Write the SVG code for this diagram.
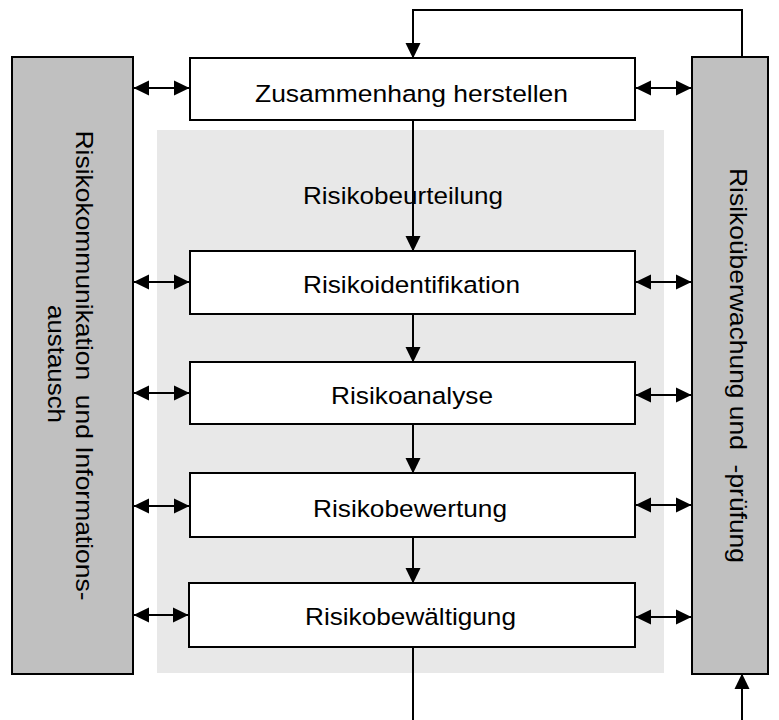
<svg xmlns="http://www.w3.org/2000/svg" width="779" height="720" viewBox="0 0 779 720">
  <style>
    .bg { fill: #ffffff; }
    .zone { fill: #e8e8e8; stroke: none; }
    .side { fill: #c0c0c0; stroke: #000; stroke-width: 2; }
    .step { fill: #ffffff; stroke: #000; stroke-width: 2; }
    .lbl { font-family: "Liberation Sans", Arial, Helvetica, sans-serif; font-size: 24.5px; fill: #000; white-space: pre; }
    .mid { text-anchor: middle; }
    .wire { fill: none; stroke: #000; stroke-width: 2; }
  </style>
  <defs>
    <marker id="head" markerUnits="userSpaceOnUse" markerWidth="16" markerHeight="16" refX="15" refY="8" orient="auto-start-reverse" viewBox="0 0 16 16">
      <path d="M0,0.5 L15.5,8 L0,15.5 z" fill="#000"/>
    </marker>
  </defs>

  <rect class="bg" x="0" y="0" width="779" height="720"/>

  <!-- shaded assessment zone -->
  <g id="assessment">
    <rect class="zone" x="157" y="130" width="507" height="543"/>
    <text class="lbl" x="303" y="204" textLength="200" lengthAdjust="spacingAndGlyphs">Risikobeurteilung</text>
  </g>

  <!-- side columns -->
  <g id="communication">
    <rect class="side" x="12" y="57" width="121" height="617"/>
    <text class="lbl mid" xml:space="preserve" transform="translate(76,365.5) rotate(90)" textLength="470" lengthAdjust="spacingAndGlyphs">Risikokommunikation  und Informations-</text>
    <text class="lbl mid" transform="translate(47.5,364) rotate(90)" textLength="118" lengthAdjust="spacingAndGlyphs">austausch</text>
  </g>
  <g id="monitoring">
    <rect class="side" x="692" y="57" width="76" height="617"/>
    <text class="lbl mid" xml:space="preserve" transform="translate(730,365.5) rotate(90)" textLength="395" lengthAdjust="spacingAndGlyphs">Risikoüberwachung und  -prüfung</text>
  </g>

  <!-- process steps -->
  <g id="context">
    <rect class="step" x="190" y="58" width="445" height="62"/>
    <text class="lbl mid" x="411.5" y="102" textLength="313" lengthAdjust="spacingAndGlyphs">Zusammenhang herstellen</text>
  </g>
  <g id="identification">
    <rect class="step" x="190" y="251" width="445" height="63"/>
    <text class="lbl mid" x="411.5" y="293" textLength="217" lengthAdjust="spacingAndGlyphs">Risikoidentifikation</text>
  </g>
  <g id="analysis">
    <rect class="step" x="190" y="362" width="445" height="62"/>
    <text class="lbl mid" x="412" y="404" textLength="162" lengthAdjust="spacingAndGlyphs">Risikoanalyse</text>
  </g>
  <g id="evaluation">
    <rect class="step" x="190" y="473" width="445" height="64"/>
    <text class="lbl mid" x="410" y="517" textLength="194" lengthAdjust="spacingAndGlyphs">Risikobewertung</text>
  </g>
  <g id="treatment">
    <rect class="step" x="189" y="583" width="446" height="64"/>
    <text class="lbl mid" x="410.5" y="625" textLength="211" lengthAdjust="spacingAndGlyphs">Risikobewältigung</text>
  </g>

  <!-- connectors -->
  <g id="connectors">
    <!-- main flow -->
    <line class="wire" x1="413" y1="120" x2="413" y2="251" marker-end="url(#head)"/>
    <line class="wire" x1="413" y1="314" x2="413" y2="362" marker-end="url(#head)"/>
    <line class="wire" x1="413" y1="424" x2="413" y2="473" marker-end="url(#head)"/>
    <line class="wire" x1="413" y1="537" x2="413" y2="583" marker-end="url(#head)"/>
    <line class="wire" x1="413" y1="647" x2="413" y2="720"/>

    <!-- feedback loop -->
    <path class="wire" d="M742,57 V10 H413 V58" marker-end="url(#head)"/>
    <line class="wire" x1="742" y1="720" x2="742" y2="674" marker-end="url(#head)"/>

    <!-- exchange with communication column -->
    <line class="wire" x1="134" y1="88" x2="189" y2="88" marker-start="url(#head)" marker-end="url(#head)"/>
    <line class="wire" x1="134" y1="282" x2="189" y2="282" marker-start="url(#head)" marker-end="url(#head)"/>
    <line class="wire" x1="134" y1="393" x2="189" y2="393" marker-start="url(#head)" marker-end="url(#head)"/>
    <line class="wire" x1="134" y1="506" x2="189" y2="506" marker-start="url(#head)" marker-end="url(#head)"/>
    <line class="wire" x1="134" y1="615" x2="188" y2="615" marker-start="url(#head)" marker-end="url(#head)"/>

    <!-- exchange with monitoring column -->
    <line class="wire" x1="636" y1="88" x2="691" y2="88" marker-start="url(#head)" marker-end="url(#head)"/>
    <line class="wire" x1="636" y1="282" x2="691" y2="282" marker-start="url(#head)" marker-end="url(#head)"/>
    <line class="wire" x1="636" y1="395" x2="691" y2="395" marker-start="url(#head)" marker-end="url(#head)"/>
    <line class="wire" x1="636" y1="505" x2="691" y2="505" marker-start="url(#head)" marker-end="url(#head)"/>
    <line class="wire" x1="636" y1="617" x2="691" y2="617" marker-start="url(#head)" marker-end="url(#head)"/>
  </g>
</svg>
